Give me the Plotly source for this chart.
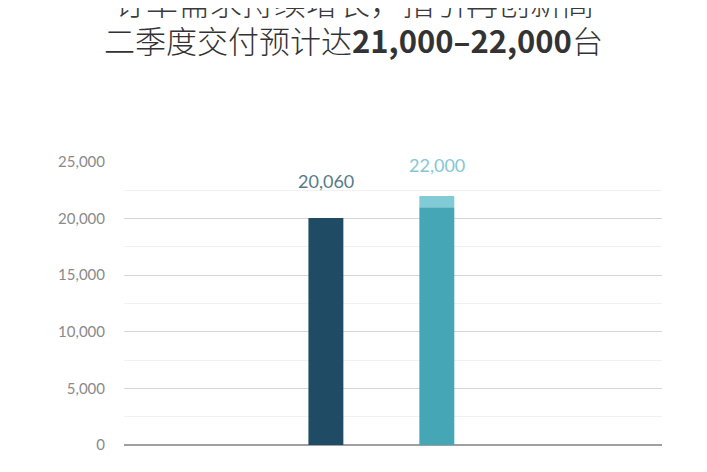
import plotly.graph_objects as go

# NIO deliveries: Q1 actual, Q2 guidance range
QUARTERS = ["2021Q1", "2021Q2E"]
ACTUAL = [20060, None]
GUIDE_LOW = [None, 21000]
GUIDE_HIGH = [None, 22000]
LABELS = ["20,060", "22,000"]
TITLE_LINE1 = "订单需求持续增长，指引再创新高"
TITLE_LINE2 = "二季度交付预计达<b>21,000–22,000</b>台"

DARK = "#1f4c64"
TEAL = "#45a6b6"
LIGHT_TEAL = "#80cbd6"

BAR_W = 0.315
FONT = "Lato"
CJK = "Noto Sans CJK SC"

fig = go.Figure()

fig.add_trace(go.Bar(x=QUARTERS, y=ACTUAL, width=BAR_W, marker_color=DARK,
                     marker_line_width=0, hoverinfo="skip"))
fig.add_trace(go.Bar(x=QUARTERS, y=GUIDE_LOW, width=BAR_W, marker_color=TEAL,
                     marker_line_width=0, hoverinfo="skip"))
# light cap from low to high of guidance
cap = [None if lo is None else hi - lo for lo, hi in zip(GUIDE_LOW, GUIDE_HIGH)]
fig.add_trace(go.Bar(x=QUARTERS, y=cap, base=GUIDE_LOW, width=BAR_W,
                     marker_color=LIGHT_TEAL, marker_line_width=0, hoverinfo="skip"))

# value labels above bars
tops = [ACTUAL[0], GUIDE_HIGH[1]]
label_colors = ["#557b88", "#86c8d0"]
shifts = [24, 18]
for q, top, txt, col, sh in zip(QUARTERS, tops, LABELS, label_colors, shifts):
    fig.add_annotation(x=q, y=top, text=txt, showarrow=False, yanchor="bottom",
                       yshift=sh, font=dict(family=FONT, size=18, color=col))

# page body adds an 8px offset, so figure coords = screen coords - 8
PLOT_LEFT = 116
PLOT_W = 538
PLOT_BOTTOM = 437
PLOT_H = 283
title_x = (345.5 - PLOT_LEFT) / PLOT_W
# title lines (top line is partly cut off in the original)
fig.add_annotation(xref="paper", yref="paper", x=title_x, xanchor="center",
                   y=(PLOT_BOTTOM - (1 - 8)) / PLOT_H, yanchor="middle", showarrow=False,
                   text=TITLE_LINE1,
                   font=dict(family=CJK, size=32, color="#3a3a3a", weight=300))
fig.add_annotation(xref="paper", yref="paper", x=title_x, xanchor="center",
                   y=(PLOT_BOTTOM - (39 - 8)) / PLOT_H, yanchor="middle", showarrow=False,
                   text=TITLE_LINE2,
                   font=dict(family=CJK, size=31, color="#333333", weight=300))

fig.update_layout(
    width=707,
    height=472,
    barmode="overlay",
    showlegend=False,
    plot_bgcolor="white",
    paper_bgcolor="white",
    margin=dict(l=116, r=53, t=154, b=35),
    xaxis=dict(
        type="category",
        range=[-1.82, 3.03],
        automargin=False,
        showgrid=False,
        showline=False,
        zeroline=False,
        ticks="",
        ticklabelstandoff=25,
        tickfont=dict(family=FONT, size=15, color="#aaaaaa"),
    ),
    yaxis=dict(
        range=[0, 25000],
        automargin=False,
        tickvals=[0, 5000, 10000, 15000, 20000, 25000],
        ticktext=["0", "5,000", "10,000", "15,000", "20,000", "25,000"],
        showgrid=True,
        gridcolor="#d6d6d6",
        gridwidth=1,
        minor=dict(dtick=2500, showgrid=True, gridcolor="#f1f1f1", gridwidth=1),
        zeroline=True,
        zerolinecolor="#a0a0a0",
        zerolinewidth=1.5,
        ticks="",
        ticklabelstandoff=18,
        tickfont=dict(family=FONT, size=15, color="#8a8a8a"),
    ),
)

fig.write_html("out.html")
